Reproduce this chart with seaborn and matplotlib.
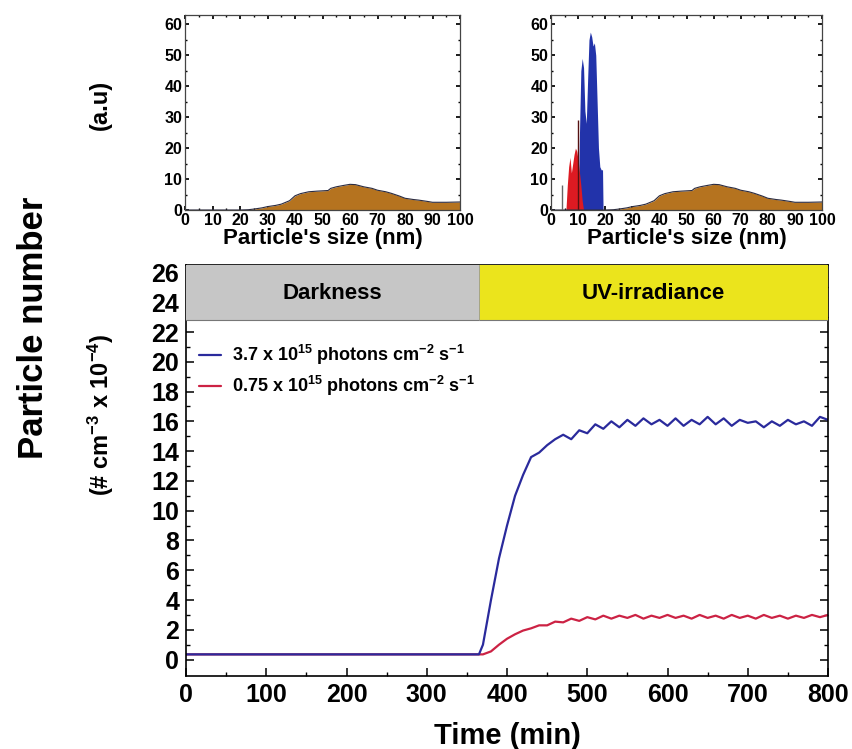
# Particle number vs time with size distribution insets
import numpy as np
import pandas as pd
import matplotlib.pyplot as plt
import seaborn as sns

# ---- data ----
# main plot: particle number (# cm-3 x 1e-4) vs time (min)
time_blue = [0, 365, 370, 380, 390, 400, 410, 420, 430, 440, 450, 460, 470, 480, 490, 500,
             510, 520, 530, 540, 550, 560, 570, 580, 590, 600, 610, 620, 630, 640, 650,
             660, 670, 680, 690, 700, 710, 720, 730, 740, 750, 760, 770, 780, 790, 800]
num_blue = [0.35, 0.35, 1.0, 4.0, 6.8, 9.0, 11.0, 12.4, 13.6, 13.9, 14.4, 14.8, 15.1, 14.8, 15.4, 15.2,
            15.8, 15.5, 16.0, 15.6, 16.1, 15.7, 16.2, 15.8, 16.1, 15.7, 16.2, 15.7, 16.1, 15.8, 16.3,
            15.8, 16.2, 15.7, 16.1, 15.9, 16.0, 15.6, 16.0, 15.7, 16.1, 15.8, 16.0, 15.7, 16.3, 16.1]

time_red = [0, 370, 380, 390, 400, 410, 420, 430, 440, 450, 460, 470, 480, 490, 500,
            510, 520, 530, 540, 550, 560, 570, 580, 590, 600, 610, 620, 630, 640, 650,
            660, 670, 680, 690, 700, 710, 720, 730, 740, 750, 760, 770, 780, 790, 800]
num_red = [0.35, 0.35, 0.55, 1.0, 1.4, 1.7, 1.95, 2.1, 2.3, 2.3, 2.55, 2.5, 2.75, 2.6, 2.85,
           2.7, 2.95, 2.75, 2.95, 2.8, 3.0, 2.75, 2.95, 2.8, 3.0, 2.8, 2.95, 2.75, 3.0, 2.8,
           2.95, 2.75, 3.0, 2.8, 2.95, 2.75, 3.0, 2.8, 2.95, 2.75, 2.95, 2.8, 3.0, 2.85, 3.0]

labels = ['3.7 x 10$^{15}$ photons cm$^{-2}$ s$^{-1}$',
          '0.75 x 10$^{15}$ photons cm$^{-2}$ s$^{-1}$']

phases = ['Darkness', 'UV-irradiance']
phase_start = [0, 365]
phase_end = [365, 800]
phase_colors = ['#c6c6c6', '#ebe41c']

# insets: size distribution (a.u) vs particle size (nm)
size_bg = [0, 20, 23, 25, 28, 30, 33, 35, 38, 40, 42, 45, 48, 50, 52, 53, 55, 58, 60, 62,
           65, 68, 70, 73, 75, 78, 80, 83, 85, 88, 90, 95, 100]
dist_bg = [0, 0, 0.1, 0.3, 0.7, 1.1, 1.5, 1.9, 3.0, 4.6, 5.3, 5.9, 6.1, 6.2, 6.3, 7.0, 7.5, 8.0, 8.3, 8.2,
           7.5, 7.0, 6.4, 5.9, 5.4, 4.5, 3.8, 3.4, 3.2, 2.8, 2.5, 2.5, 2.6]

size_red = [5.5, 6.0, 6.5, 7.0, 7.5, 8.0, 8.5, 9.0, 9.5, 10.0, 10.5, 11.0, 11.5, 12.0]
dist_red = [0, 8, 14, 17, 12, 15, 18, 20, 19, 16, 12, 8, 3, 0]

size_blue = [10.0, 10.5, 11.0, 11.5, 12.0, 12.5, 13.0, 13.5, 14.0, 14.5, 15.0, 15.5, 16.0,
             16.5, 17.0, 17.5, 18.0, 18.5, 19.0, 19.2]
dist_blue = [0, 25, 45, 49, 46, 32, 28, 42, 55, 57.5, 56, 53, 54, 50, 35, 20, 14, 13, 13, 0]

spike_size = [3.9, 9.8]
spike_height = [8, 29]

# ---- style ----
sns.set_theme(style='ticks')
plt.rcParams['font.family'] = ['Liberation Sans', 'DejaVu Sans']
plt.rcParams['font.weight'] = 'bold'
plt.rcParams['text.color'] = 'black'
plt.rcParams['xtick.color'] = 'black'
plt.rcParams['ytick.color'] = 'black'
plt.rcParams['axes.labelcolor'] = 'black'
plt.rcParams['mathtext.fontset'] = 'custom'
plt.rcParams['mathtext.bf'] = 'Liberation Sans:bold'
plt.rcParams['mathtext.rm'] = 'Liberation Sans:bold'
plt.rcParams['mathtext.default'] = 'bf'

blue = '#2a2a9c'
red = '#cc2244'
brown = '#b5731f'

fig = plt.figure(figsize=(8.53, 7.49), dpi=100)

# ---- main plot ----
ax = fig.add_axes([0.2181, 0.0975, 0.7526, 0.5487])
df_blue = pd.DataFrame({'t': time_blue, 'n': num_blue})
df_red = pd.DataFrame({'t': time_red, 'n': num_red})
sns.lineplot(data=df_red, x='t', y='n', ax=ax, color=red, lw=1.6, label=labels[1])
sns.lineplot(data=df_blue, x='t', y='n', ax=ax, color=blue, lw=1.6, label=labels[0])

band_lo, band_hi = 22.8, 26.6
for name, s, e, c in zip(phases, phase_start, phase_end, phase_colors):
    ax.fill_between([s, e], band_lo, band_hi, color=c, lw=0, zorder=3)
    ax.text((s + e) / 2, 24.6, name, ha='center', va='center', fontsize=16,
            fontweight='bold', zorder=4)
ax.axhline(band_lo, color='#777777', lw=0.8, zorder=4)
ax.axvline(phase_start[1], ymin=(band_lo + 1.1) / (26.5 + 1.1), color='#999999', lw=0.6, zorder=4)

ax.set_xlim(0, 800)
ax.set_ylim(-1.1, 26.5)
ax.set_xticks(np.arange(0, 801, 100))
ax.set_xticks(np.arange(0, 801, 50), minor=True)
ax.set_yticks(np.arange(0, 27, 2))
ax.set_yticks(np.arange(0, 27, 1), minor=True)
ax.tick_params(which='both', direction='in', right=True, top=False, labelsize=18, pad=5)
ax.tick_params(which='major', length=6, width=1.1)
ax.tick_params(which='minor', length=3, width=1.0)
for sp in ax.spines.values():
    sp.set_linewidth(1.2)
    sp.set_color('black')
ax.set_xlabel('Time (min)', fontsize=21, fontweight='bold', labelpad=11)
ax.set_ylabel('')

h, l = ax.get_legend_handles_labels()
ax.legend([h[1], h[0]], [l[1], l[0]], loc='upper left', bbox_to_anchor=(-0.005, 0.85),
          frameon=False, fontsize=13, handlelength=1.2, handletextpad=0.6, labelspacing=0.4)

fig.text(0.039, 0.563, 'Particle number', rotation=90, ha='center', va='center',
         fontsize=25, fontweight='bold')
fig.text(0.118, 0.446, '(# cm$^{-3}$ x 10$^{-4}$)', rotation=90, ha='center', va='center',
         fontsize=17, fontweight='bold')
fig.text(0.118, 0.86, '(a.u)', rotation=90, ha='center', va='center',
         fontsize=17, fontweight='bold')

# ---- insets ----
def style_inset(a):
    a.set_xlim(0, 100)
    a.set_ylim(0, 63)
    a.set_xticks(np.arange(0, 101, 10))
    a.set_xticks(np.arange(0, 101, 5), minor=True)
    a.set_yticks(np.arange(0, 61, 10))
    a.set_yticks(np.arange(0, 61, 5), minor=True)
    a.tick_params(which='both', direction='in', top=True, right=True, labelsize=11.5, pad=2)
    a.tick_params(which='major', length=3)
    a.tick_params(which='minor', length=1.5)
    for sp in a.spines.values():
        sp.set_linewidth(0.9)
        sp.set_color('#444444')
    a.set_xlabel("Particle's size (nm)", fontsize=16, fontweight='bold', labelpad=0)
    a.set_ylabel('')

df_bg = pd.DataFrame({'size': size_bg, 'dist': dist_bg})

ax1 = fig.add_axes([0.2169, 0.7196, 0.3224, 0.2603])
ax1.fill_between(size_bg, dist_bg, color=brown, lw=0)
sns.lineplot(data=df_bg, x='size', y='dist', ax=ax1, color='#2b2b40', lw=0.8)
style_inset(ax1)

ax2 = fig.add_axes([0.646, 0.7196, 0.3177, 0.2603])
ax2.fill_between(size_bg, dist_bg, color=brown, lw=0)
sns.lineplot(data=df_bg, x='size', y='dist', ax=ax2, color='#2b2b40', lw=0.8)
ax2.fill_between(size_blue, dist_blue, color='#2233aa', lw=0)
ax2.fill_between(size_red, dist_red, color='#dd1a22', lw=0)
ax2.vlines(spike_size, 0, spike_height, colors=['#666666', '#551111'], lw=1.0)
style_inset(ax2)

fig.savefig('out.png', dpi=100)
